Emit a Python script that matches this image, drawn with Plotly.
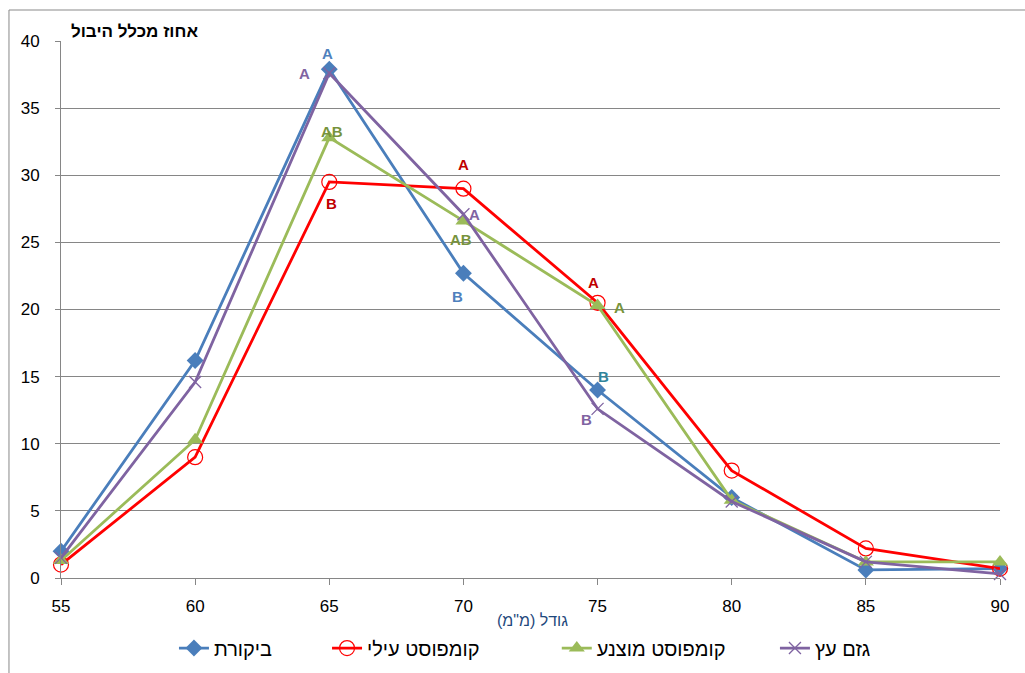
import plotly.graph_objects as go

sizes = [55, 60, 65, 70, 75, 80, 85, 90]
series_names = ["ביקורת", "קומפוסט עילי", "קומפוסט מוצנע", "גזם עץ"]
control = [2.0, 16.2, 37.9, 22.7, 14.0, 6.0, 0.6, 0.7]
surface_compost = [1.0, 9.0, 29.5, 29.0, 20.5, 8.0, 2.2, 0.7]
buried_compost = [1.3, 10.3, 32.8, 26.6, 20.3, 5.8, 1.2, 1.2]
wood_chips = [1.5, 14.6, 37.6, 27.1, 12.6, 5.7, 1.2, 0.3]
y_ticks = [0, 5, 10, 15, 20, 25, 30, 35, 40]
x_ticks = [55, 60, 65, 70, 75, 80, 85, 90]

# significance letters: (series index, x value, letter)
letters = [
    (0, 65, "A"), (0, 70, "B"), (0, 75, "B"),
    (3, 65, "A"), (3, 70, "A"), (3, 75, "B"),
    (2, 65, "AB"), (2, 70, "AB"), (2, 75, "A"),
    (1, 65, "B"), (1, 70, "A"), (1, 75, "A"),
]
# styling (pixel offsets and colours)
letter_style = {
    (0, 65): (-2, 16, "#4F81BD"), (0, 70): (-6, -23, "#4F81BD"), (0, 75): (6, 14, "#31859C"),
    (3, 65): (-25, 0, "#8064A2"), (3, 70): (11, 0, "#8064A2"), (3, 75): (-11, -11, "#8064A2"),
    (2, 65): (3, 6, "#77933C"), (2, 70): (-2, -19, "#77933C"), (2, 75): (22, -2, "#77933C"),
    (1, 65): (2, -22, "#C00000"), (1, 70): (0, 24, "#C00000"), (1, 75): (-4, 20, "#C00000"),
}

all_series = [control, surface_compost, buried_compost, wood_chips]
colors = ["#4A7EBB", "#FF0000", "#9BBB59", "#7F63A1"]
markers = [
    dict(symbol="diamond", size=13, color="#4A7EBB"),
    dict(symbol="circle-open", size=15, color="#FF0000", line=dict(width=1.2, color="#FF0000")),
    dict(symbol="triangle-up", size=14, color="#9BBB59"),
    dict(symbol="x-thin-open", size=12, color="#7F63A1", line=dict(width=1.3, color="#7F63A1")),
]
legend_pad = [9, 13, 8, 0]  # trailing non-breaking spaces for legend spacing

fig = go.Figure()
for i, (name, vals) in enumerate(zip(series_names, all_series)):
    label = name + "\u00a0" * legend_pad[i]
    fig.add_trace(go.Scatter(
        x=sizes, y=vals, name=label, mode="lines+markers",
        line=dict(color=colors[i], width=2.8),
        marker=markers[i], cliponaxis=False,
    ))

for si, xv, txt in letters:
    yv = all_series[si][sizes.index(xv)]
    dx, dy, col = letter_style[(si, xv)]
    fig.add_annotation(x=xv, y=yv, text=txt, showarrow=False, xshift=dx, yshift=dy,
                       font=dict(family="Liberation Sans", size=15, color=col, weight="bold"))

fig.add_annotation(xref="paper", yref="paper", x=0.0788, y=1.0168, xanchor="center", yanchor="middle",
                   text="אחוז מכלל היבול", showarrow=False,
                   font=dict(family="Liberation Sans", size=17, color="#000000", weight="bold"))
fig.add_annotation(xref="paper", yref="paper", x=0.5016, y=-0.080, xanchor="center", yanchor="middle",
                   text='גודל (מ"מ)', showarrow=False,
                   font=dict(family="Liberation Sans", size=16, color="#1F497D"))

fig.add_shape(type="rect", xref="paper", yref="paper", x0=-0.0554, x1=1.04, y0=-0.25, y1=1.0577,
              line=dict(color="#898989", width=1), fillcolor="rgba(0,0,0,0)", layer="below")

fig.update_layout(
    width=1025, height=673,
    margin=dict(l=61, r=25, t=41, b=95),
    paper_bgcolor="white", plot_bgcolor="white",
    font=dict(family="Liberation Sans", size=17, color="#000000"),
    showlegend=True,
    legend=dict(orientation="h", x=0.1203, xanchor="left", xref="paper",
                y=0.0371, yanchor="middle", yref="container",
                font=dict(size=20, family="Liberation Sans"), itemwidth=30, traceorder="normal"),
    xaxis=dict(range=[55, 90], tickvals=x_ticks, showgrid=False, showline=True, linecolor="#868686",
               linewidth=1, ticks="outside", ticklen=6, tickcolor="#868686", zeroline=False,
               tickfont=dict(size=17), ticklabelstandoff=7),
    yaxis=dict(range=[0, 40], tickvals=y_ticks, showgrid=True, gridcolor="#868686", gridwidth=1,
               showline=True, linecolor="#868686", linewidth=1, ticks="outside", ticklen=5,
               tickcolor="#868686", zeroline=False, tickfont=dict(size=17), ticklabelstandoff=12),
)

fig.write_html("out.html")
